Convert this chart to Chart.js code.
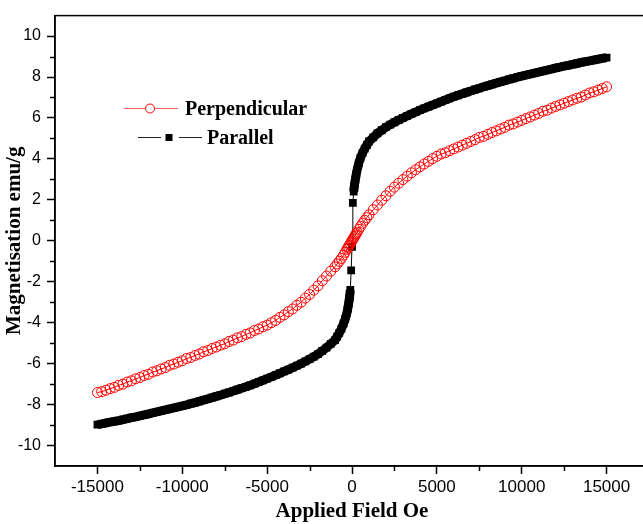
<!DOCTYPE html>
<html>
<head>
<meta charset="utf-8">
<script src="https://cdn.jsdelivr.net/npm/chart.js@4/dist/chart.umd.min.js"></script>
<style>
  html, body { margin: 0; padding: 0; background: #fff; overflow: hidden; }
  #wrap { position: relative; width: 660px; height: 524px; }
</style>
</head>
<body>
<div id="wrap"><canvas id="chart"></canvas></div>
<script>
// applied field (Oe)
const field = [
  -15000, -14750, -14500, -14250, -14000, -13750, -13500, -13250, -13000, -12750,
  -12500, -12250, -12000, -11750, -11500, -11250, -11000, -10750, -10500, -10250,
  -10000, -9750, -9500, -9250, -9000, -8750, -8500, -8250, -8000, -7750,
  -7500, -7250, -7000, -6750, -6500, -6250, -6000, -5750, -5500, -5250,
  -5000, -4750, -4500, -4250, -4000, -3750, -3500, -3250, -3000, -2750,
  -2500, -2250, -2000, -1750, -1500, -1250,
  -1000, -875, -750, -625, -500, -400, -300, -250, -200, -150, -100, -50,
  0, 50, 100, 150, 200, 250, 300, 400, 500, 625, 750, 875, 1000,
  1250, 1500, 1750, 2000, 2250, 2500, 2750, 3000, 3250, 3500,
  3750, 4000, 4250, 4500, 4750, 5000, 5250, 5500, 5750, 6000,
  6250, 6500, 6750, 7000, 7250, 7500, 7750, 8000, 8250, 8500,
  8750, 9000, 9250, 9500, 9750, 10000, 10250, 10500, 10750, 11000,
  11250, 11500, 11750, 12000, 12250, 12500, 12750, 13000, 13250, 13500,
  13750, 14000, 14250, 14500, 14750, 15000
];

// magnetisation (emu/g), field perpendicular
const perpendicular = [
  -7.41, -7.37, -7.30, -7.22, -7.16, -7.06, -7.00, -6.90, -6.84, -6.74,
  -6.68, -6.58, -6.52, -6.41, -6.35, -6.26, -6.19, -6.08, -6.02, -5.93,
  -5.86, -5.75, -5.70, -5.60, -5.53, -5.42, -5.36, -5.26, -5.19, -5.10,
  -5.03, -4.92, -4.85, -4.74, -4.68, -4.57, -4.50, -4.38, -4.31, -4.20,
  -4.12, -4.00, -3.89, -3.74, -3.62, -3.46, -3.33, -3.15, -3.00, -2.80,
  -2.62, -2.41, -2.20, -1.95, -1.72, -1.48,
  -1.27, -1.13, -1.00, -0.86, -0.70, -0.56, -0.42, -0.35, -0.28, -0.21, -0.14, -0.07,
  0.00, 0.07, 0.14, 0.21, 0.28, 0.35, 0.42, 0.56, 0.70, 0.86, 1.00, 1.13, 1.27,
  1.52, 1.75, 1.98, 2.20, 2.42, 2.62, 2.81, 2.99, 3.16, 3.32,
  3.47, 3.61, 3.75, 3.88, 4.01, 4.13, 4.24, 4.30, 4.40, 4.49,
  4.58, 4.67, 4.76, 4.85, 4.94, 5.05, 5.10, 5.20, 5.29, 5.37,
  5.46, 5.54, 5.65, 5.71, 5.80, 5.88, 5.97, 6.05, 6.14, 6.22,
  6.33, 6.38, 6.48, 6.56, 6.64, 6.72, 6.80, 6.88, 6.96, 7.02,
  7.12, 7.22, 7.28, 7.36, 7.44, 7.52
];

// magnetisation (emu/g), field parallel
const parallel = [
  -8.98, -8.94, -8.90, -8.86, -8.82, -8.78, -8.73, -8.69, -8.64, -8.60,
  -8.55, -8.50, -8.46, -8.41, -8.36, -8.31, -8.26, -8.21, -8.16, -8.11,
  -8.06, -8.01, -7.95, -7.90, -7.84, -7.78, -7.72, -7.66, -7.60, -7.54,
  -7.47, -7.41, -7.34, -7.27, -7.20, -7.13, -7.06, -6.98, -6.90, -6.82,
  -6.73, -6.65, -6.56, -6.47, -6.38, -6.29, -6.20, -6.10, -6.00, -5.89,
  -5.78, -5.66, -5.53, -5.38, -5.22, -5.03,
  -4.85, -4.68, -4.50, -4.30, -4.05, -3.82, -3.52, -3.32, -3.08, -2.80, -2.40, -1.45,
  -0.30, 1.85, 2.40, 2.75, 3.00, 3.25, 3.45, 3.80, 4.05, 4.30, 4.50, 4.68, 4.85,
  5.05, 5.25, 5.40, 5.55, 5.67, 5.79, 5.90, 6.00, 6.10, 6.20,
  6.29, 6.38, 6.47, 6.55, 6.63, 6.71, 6.80, 6.88, 6.96, 7.04,
  7.11, 7.18, 7.25, 7.32, 7.39, 7.45, 7.52, 7.58, 7.64, 7.70,
  7.76, 7.82, 7.88, 7.93, 7.99, 8.04, 8.09, 8.14, 8.19, 8.24,
  8.29, 8.34, 8.39, 8.44, 8.48, 8.53, 8.57, 8.62, 8.66, 8.71,
  8.75, 8.79, 8.83, 8.87, 8.91, 8.95
];

const xTicks = [-15000, -10000, -5000, 0, 5000, 10000, 15000];
const xMinor = [-12500, -7500, -2500, 2500, 7500, 12500];
const yTicks = [-10, -8, -6, -4, -2, 0, 2, 4, 6, 8, 10];
const yMinor = [-9, -7, -5, -3, -1, 1, 3, 5, 7, 9];

const tickFont = { family: '"Liberation Sans", Arial, sans-serif', size: 16 };
const titleFont = { family: '"Liberation Serif", "Times New Roman", serif', size: 21, weight: 'bold' };

// frame, minor ticks and the staggered legend
const extras = {
  id: 'extras',
  afterDraw(chart) {
    const { ctx, chartArea: { left, right, top, bottom }, scales: { x, y } } = chart;
    ctx.save();
    ctx.strokeStyle = '#000';
    ctx.lineWidth = 1.5;
    ctx.strokeRect(left, top, right - left, bottom - top);

    ctx.beginPath();
    xMinor.forEach(v => {
      const px = Math.round(x.getPixelForValue(v)) + 0.5;
      ctx.moveTo(px, bottom);
      ctx.lineTo(px, bottom + 5);
    });
    yMinor.forEach(v => {
      const py = Math.round(y.getPixelForValue(v)) + 0.5;
      ctx.moveTo(left, py);
      ctx.lineTo(left - 5, py);
    });
    ctx.stroke();

    // legend
    ctx.lineWidth = 1;
    ctx.strokeStyle = '#ff6060';
    ctx.beginPath();
    ctx.moveTo(124, 108.5); ctx.lineTo(145, 108.5);
    ctx.moveTo(155, 108.5); ctx.lineTo(178, 108.5);
    ctx.stroke();
    ctx.strokeStyle = '#ff0000';
    ctx.beginPath();
    ctx.arc(150, 108.5, 4.5, 0, Math.PI * 2);
    ctx.stroke();

    ctx.strokeStyle = '#222';
    ctx.beginPath();
    ctx.moveTo(138, 137.5); ctx.lineTo(161, 137.5);
    ctx.moveTo(179, 137.5); ctx.lineTo(202, 137.5);
    ctx.stroke();
    ctx.fillStyle = '#000';
    ctx.fillRect(165.5, 134, 7, 7);

    ctx.font = 'bold 20px "Liberation Serif", "Times New Roman", serif';
    ctx.textBaseline = 'middle';
    ctx.fillText('Perpendicular', 185, 110);
    ctx.fillText('Parallel', 207, 139);
    ctx.restore();
  }
};

new Chart(document.getElementById('chart'), {
  type: 'scatter',
  data: {
    datasets: [
      {
        label: 'Perpendicular',
        data: field.map((h, i) => ({ x: h, y: perpendicular[i] })),
        showLine: true,
        borderColor: '#ff0000',
        borderWidth: 1,
        pointStyle: 'circle',
        pointRadius: 5,
        pointBorderWidth: 1,
        pointBorderColor: '#ff0000',
        pointBackgroundColor: 'rgba(255,255,255,0)'
      },
      {
        label: 'Parallel',
        data: field.map((h, i) => ({ x: h, y: parallel[i] })),
        showLine: true,
        borderColor: '#000',
        borderWidth: 1,
        // the dense square markers merge into a solid band away from zero field
        segment: {
          borderWidth: c => Math.min(Math.abs(c.p0.parsed.x), Math.abs(c.p1.parsed.x)) >= 100 ? 9 : 1
        },
        pointStyle: 'rect',
        pointRadius: 5.5,
        pointBorderWidth: 0,
        pointBackgroundColor: '#000'
      }
    ]
  },
  options: {
    responsive: true,
    maintainAspectRatio: false,
    animation: false,
    layout: { padding: { top: 14, right: 11, left: 0, bottom: 0 } },
    plugins: {
      legend: { display: false },
      tooltip: { enabled: false }
    },
    scales: {
      x: {
        type: 'linear',
        min: -17500,
        max: 17500,
        afterBuildTicks: s => { s.ticks = xTicks.map(v => ({ value: v })); },
        afterFit: s => { s.height = 58; },
        border: { display: true, color: '#000', width: 1.5 },
        grid: { drawOnChartArea: false, drawTicks: true, tickLength: 8, tickWidth: 1.5, color: '#000' },
        ticks: { color: '#000', font: { family: tickFont.family, size: 17 }, padding: 3, maxRotation: 0, callback: v => String(v) },
        title: { display: true, text: 'Applied Field Oe', color: '#000', font: titleFont, padding: { top: 0, bottom: 0 } }
      },
      y: {
        type: 'linear',
        min: -11,
        max: 11,
        afterBuildTicks: s => { s.ticks = yTicks.map(v => ({ value: v })); },
        afterFit: s => { s.width = 55; },
        border: { display: true, color: '#000', width: 1.5 },
        grid: { drawOnChartArea: false, drawTicks: true, tickLength: 8, tickWidth: 1.5, color: '#000' },
        ticks: { color: '#000', font: tickFont, padding: 6, callback: v => String(v) },
        title: { display: true, text: 'Magnetisation emu/g', color: '#000', font: titleFont, padding: { top: 2, bottom: 0 } }
      }
    }
  },
  plugins: [extras]
});
</script>
</body>
</html>
